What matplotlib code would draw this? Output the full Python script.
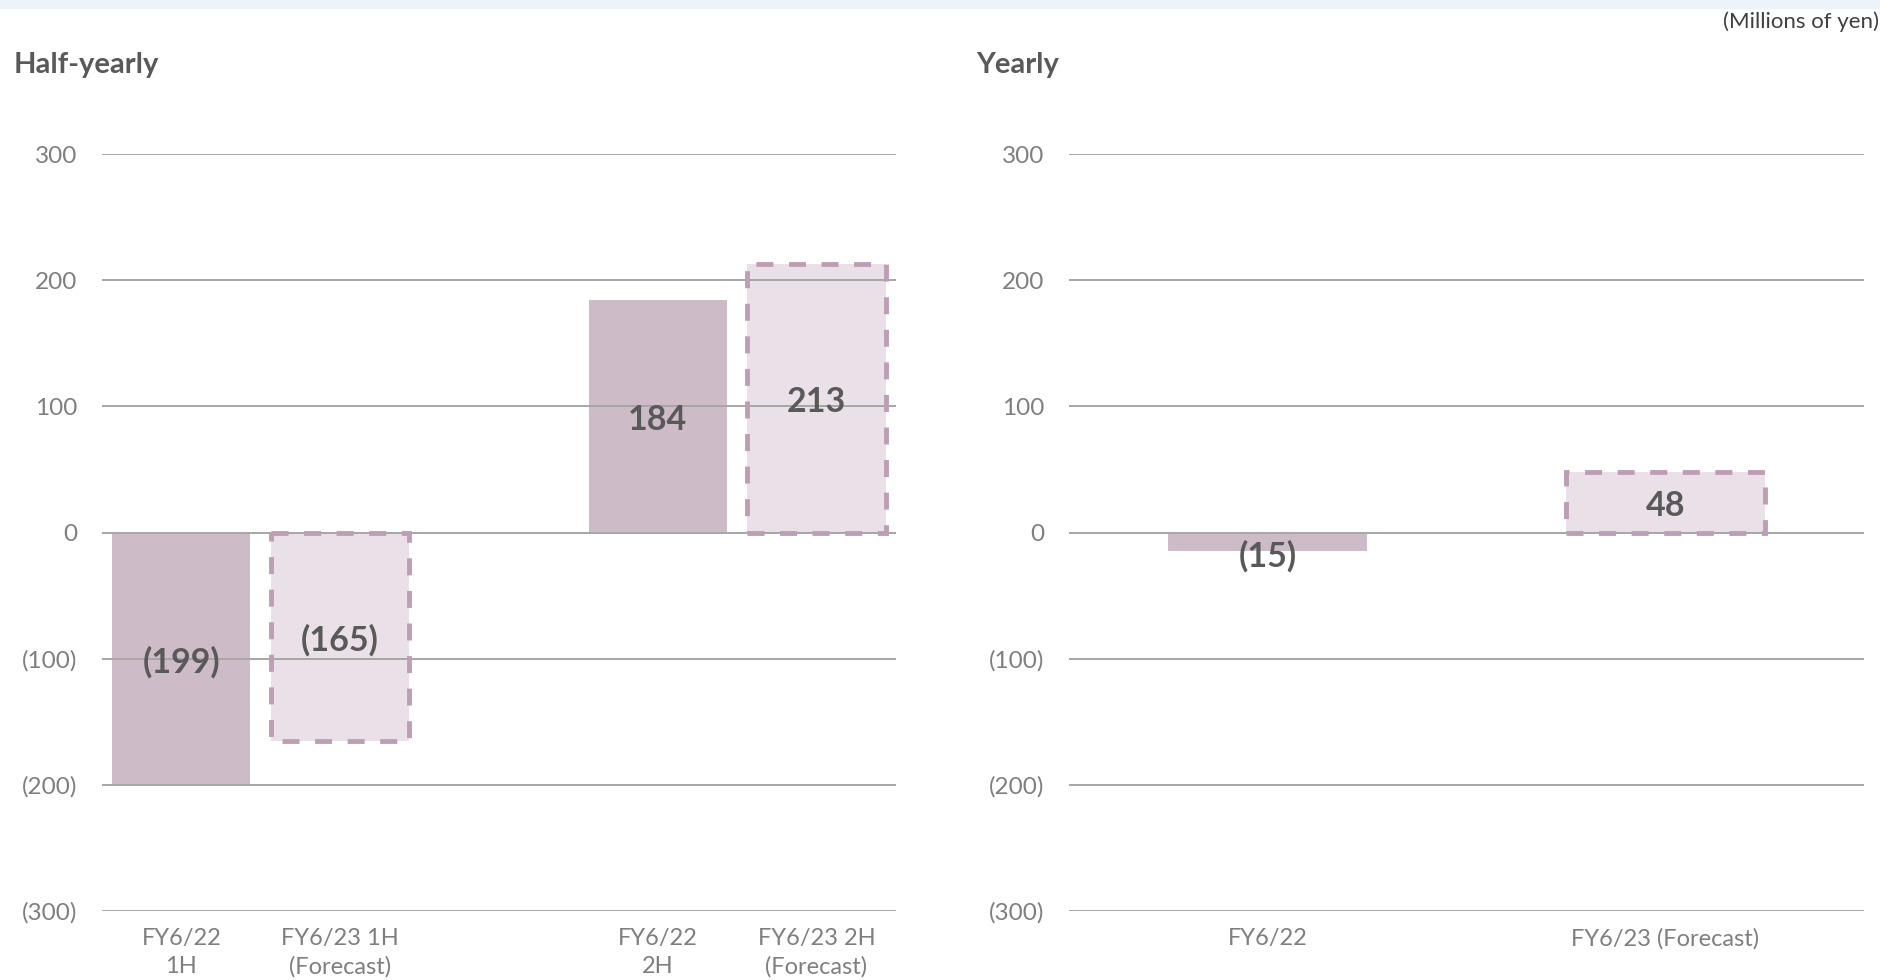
import numpy as np
import matplotlib.pyplot as plt
from matplotlib.patches import Rectangle

plt.rcParams['font.family'] = ['Lato', 'DejaVu Sans']

# data (millions of yen); the blank slot separates 1H and 2H
half_labels = ['FY6/22\n1H', 'FY6/23 1H\n(Forecast)', '', 'FY6/22\n2H', 'FY6/23 2H\n(Forecast)']
half_values = [-199, -165, np.nan, 184, 213]
half_forecast = [False, True, False, False, True]

year_labels = ['FY6/22', 'FY6/23 (Forecast)']
year_values = [-15, 48]
year_forecast = [False, True]

yticks = [-300, -200, -100, 0, 100, 200, 300]

solid = '#CDBBC8'
light = '#EAE0E8'
edge = '#BE9EB4'
grid_c = '#A6A6A6'
txt = '#595959'
tick_c = '#7F7F7F'


def fmt(v):
    return f'({abs(v):.0f})' if v < 0 else f'{v:.0f}'


def draw(ax, labels, values, forecast, width):
    x = np.arange(len(labels))
    for xi, v, fc in zip(x, values, forecast):
        if np.isnan(v):
            continue
        ax.bar(xi, v, width=width, color=light if fc else solid, zorder=1, linewidth=0)
        if fc:
            ax.bar(xi, v, width=width, fill=False, edgecolor=edge, linewidth=3.5,
                   linestyle=(0, (3.5, 3.2)), zorder=3)
        ty = v / 2 if abs(v) > 30 else v - 1
        ax.text(xi, ty - 3, fmt(v), ha='center', va='center', fontsize=24.5,
                fontweight='bold', color=txt, zorder=4)
    for y in yticks:
        ax.axhline(y, color=grid_c, linewidth=1.4, zorder=2)
    ax.set_xlim(-0.5, len(labels) - 0.5)
    ax.set_ylim(-300, 300)
    ax.set_yticks(yticks)
    ax.set_yticklabels([fmt(t) for t in yticks], fontsize=17.5, color=tick_c)
    ax.set_xticks(x)
    ax.set_xticklabels(labels, fontsize=17, color=tick_c, linespacing=1.45)
    ax.tick_params(axis='both', length=0)
    ax.tick_params(axis='y', pad=18)
    ax.tick_params(axis='x', pad=12)
    for s in ax.spines.values():
        s.set_visible(False)


fig = plt.figure(figsize=(18.81, 9.8), dpi=100)

# faint band at the very top
fig.patches.append(Rectangle((0, 0.992), 1, 0.008, transform=fig.transFigure,
                             color='#EEF3FA', zorder=0))

ax1 = fig.add_axes([0.0542, 0.0704, 0.4221, 0.7724])
ax2 = fig.add_axes([0.5683, 0.0704, 0.4227, 0.7724])

draw(ax1, half_labels, half_values, half_forecast, 0.87)
draw(ax2, year_labels, year_values, year_forecast, 0.5)

fig.text(0.0074, 0.934, 'Half-yearly', fontsize=21, fontweight='bold', color=txt, va='center')
fig.text(0.519, 0.934, 'Yearly', fontsize=21, fontweight='bold', color=txt, va='center')
fig.text(0.999, 0.978, '(Millions of yen)', fontsize=16, color='#404040', ha='right', va='center')

fig.savefig('out.png', dpi=100)
